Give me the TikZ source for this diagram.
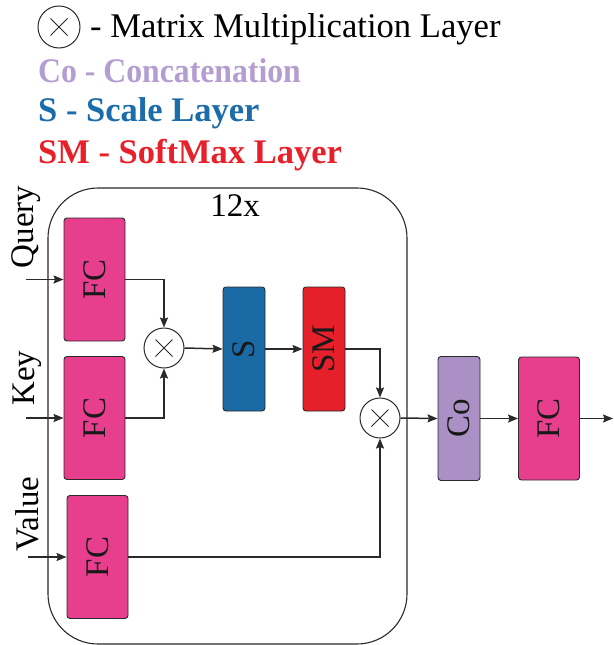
\documentclass[tikz,border=0pt]{standalone}
\usepackage{fontspec}
\setmainfont{Liberation Serif}
\usetikzlibrary{arrows.meta,calc}
\definecolor{fcpink}{HTML}{E83E8E}
\definecolor{sblue}{HTML}{1A6AA5}
\definecolor{smred}{HTML}{E5202A}
\definecolor{colav}{HTML}{AA90C4}
\definecolor{legco}{HTML}{B39DD1}
\definecolor{legs}{HTML}{1B6CA8}
\definecolor{legsm}{HTML}{E8202A}
\definecolor{edge}{HTML}{2A2A2A}
\begin{document}
\begin{tikzpicture}[x=1pt,y=-1pt,
  txt/.style={font=\fontsize{33}{36}\selectfont, inner sep=0pt},
  legtxt/.style={font=\fontsize{34.6}{38}\selectfont, inner sep=0pt, anchor=base west},
  btxt/.style={font=\fontsize{34.5}{38}\selectfont\bfseries, inner sep=0pt, anchor=base west},
  layer/.style={draw=edge, line width=0.9pt, rounded corners=3pt, inner sep=0pt,
                font=\fontsize{33}{36}\selectfont, text=black!90},
  fcbox/.style={layer, fill=fcpink, minimum width=61pt, minimum height=123pt},
  thinbox/.style={layer, minimum width=42pt, minimum height=124pt},
  mult/.style={circle, draw=edge, line width=1pt, fill=white, minimum size=40pt, inner sep=0pt,
    path picture={
      \draw[line width=0.8pt] ($(path picture bounding box.center)+(-8.5,-8.5)$) -- ($(path picture bounding box.center)+(8.5,8.5)$);
      \draw[line width=0.8pt] ($(path picture bounding box.center)+(-8.5,8.5)$) -- ($(path picture bounding box.center)+(8.5,-8.5)$);
    }},
  conn/.style={draw=edge, line width=1.5pt, -{Stealth[length=10pt,width=8pt,inset=1.5pt]}},
  frame/.style={draw=edge, line width=1.1pt, rounded corners=50pt}
]
\useasboundingbox (0,0) rectangle (613,645);

% legend
\node[mult, minimum size=42pt] (legmult) at (59,27) {};
\node[legtxt] (legmm) at (90,37) {- Matrix Multiplication Layer};
\node[btxt, text=legco, xscale=0.92] (legc) at (38,82) {Co - Concatenation};
\node[btxt, text=legs] (legsc) at (38,121) {S - Scale Layer};
\node[btxt, text=legsm] (legsmx) at (38,163) {SM - SoftMax Layer};

% frame
\draw[frame] (48,188) rectangle (407,644);
\node[txt, anchor=base] (rep) at (235,216) {12x};

% inputs labels
\node[txt, rotate=90] (lq) at (26,227) {Query};
\node[txt, rotate=90] (lk) at (27,378) {Key};
\node[txt, rotate=90] (lv) at (27.5,514) {Value};

% boxes
\node[fcbox] (fcq) at (94.5,279.5) {\rotatebox{90}{FC}};
\node[fcbox] (fck) at (94.5,418) {\rotatebox{90}{FC}};
\node[fcbox] (fcv) at (97.5,557) {\rotatebox{90}{FC}};
\node[mult] (m1) at (164,348) {};
\node[thinbox, fill=sblue] (sc) at (244,349) {\rotatebox{90}{S}};
\node[thinbox, fill=smred] (sm) at (324,349) {\rotatebox{90}{SM}};
\node[mult] (m2) at (380,418) {};
\node[thinbox, fill=colav] (co) at (459,418.5) {\rotatebox{90}{Co}};
\node[fcbox] (fco) at (549,418.5) {\rotatebox{90}{FC}};

\coordinate (qin) at (26,279.5);
\coordinate (kin) at (26,418);
\coordinate (vin) at (28,557);
\coordinate (out) at (613,418.5);

% connectors
\draw[conn] (qin) -- (fcq.west);
\draw[conn] (kin) -- (fck.west);
\draw[conn] (vin) -- (fcv.west);
\draw[conn] (fcq.east) -| (m1.north);
\draw[conn] (fck.east) -| (m1.south);
\draw[conn] (m1.east) -- (sc.west);
\draw[conn] (sc.east) -- (sm.west);
\draw[conn] (sm.east) -| (m2.north);
\draw[conn] (fcv.east) -| (m2.south);
\draw[conn] (m2.east) -- (co.west);
\draw[conn] (co.east) -- (fco.west);
\draw[conn] (fco.east) -- (out);
\end{tikzpicture}
\end{document}
